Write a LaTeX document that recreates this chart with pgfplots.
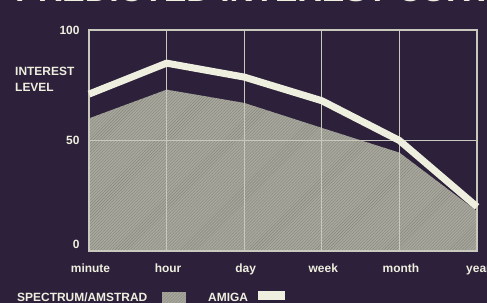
\documentclass[border=0pt]{standalone}
\usepackage{pgfplots}
\pgfplotsset{compat=1.18}
\usepackage{fontspec}
\setmainfont{Liberation Sans}
\usetikzlibrary{patterns}
\definecolor{bg}{HTML}{2D203A}
\definecolor{fg}{HTML}{EFEFE0}
\definecolor{gridc}{HTML}{C8C8BC}
\definecolor{greyA}{HTML}{A8A89E}
\definecolor{greyB}{HTML}{85857C}
\begin{document}
\begin{tikzpicture}[x=1bp,y=1bp]
\fill[bg] (-5,-5) rectangle (492,307);
\node[anchor=base west, inner sep=0, font=\fontsize{34}{34}\selectfont\bfseries, text=fg] at (15,300.5) {PREDICTED INTEREST CURVE};
\begin{axis}[
  at={(89bp,51bp)}, anchor=south west,
  scale only axis, width=388bp, height=221bp,
  xmin=0, xmax=5, ymin=0, ymax=100,
  xtick={0,1,2,3,4,5},
  xticklabels={minute,hour,day,week,month,year},
  ytick={3,50,100}, yticklabels={0,50,100},
  extra y ticks={50}, extra y tick labels={},
  extra y tick style={grid=major},
  xmajorgrids,
  major tick length=0,
  axis line style={draw=gridc, line width=1.2bp},
  grid style={draw=gridc, line width=1bp},
  set layers=axis on top, axis on top,
  tick label style={font=\fontsize{12}{12}\selectfont\bfseries, text=fg},
  xticklabel style={anchor=base, yshift=-21bp, xshift=1.5bp},
  yticklabel style={anchor=east, xshift=-6bp},
  ylabel={INTEREST\\LEVEL},
  ylabel style={rotate=-90, at={(axis description cs:-0.1907,0.8326)}, anchor=north west, inner sep=0, align=left, font=\fontsize{12}{16}\selectfont\bfseries, text=fg},
]
\addplot[draw=none, fill=greyA, postaction={pattern=north east lines, pattern color=greyB}]
  coordinates {(0,60) (1,73) (2,67) (3,55.7) (4,44.5) (5,18)} \closedcycle;
\addplot[on layer=axis foreground, line width=7bp, color=fg, line join=round]
  coordinates {(0,71) (1,85) (2,78.7) (3,68) (4,50) (5,20)};
\draw[fg, line width=3bp] (rel axis cs:0,1) -- (rel axis cs:1,1);
\end{axis}
\node[anchor=base west, inner sep=0, font=\fontsize{12}{12}\selectfont\bfseries, text=fg] at (17,1) {SPECTRUM/AMSTRAD};
\fill[greyA] (162,-2) rectangle (186,10);
\fill[pattern=north east lines, pattern color=greyB] (162,-2) rectangle (186,10);
\node[anchor=base west, inner sep=0, font=\fontsize{12}{12}\selectfont\bfseries, text=fg] at (208,1) {AMIGA};
\fill[fg] (258,2) rectangle (285,11);
\pgfresetboundingbox
\useasboundingbox (0,0) rectangle (487,302);
\end{tikzpicture}
\end{document}
